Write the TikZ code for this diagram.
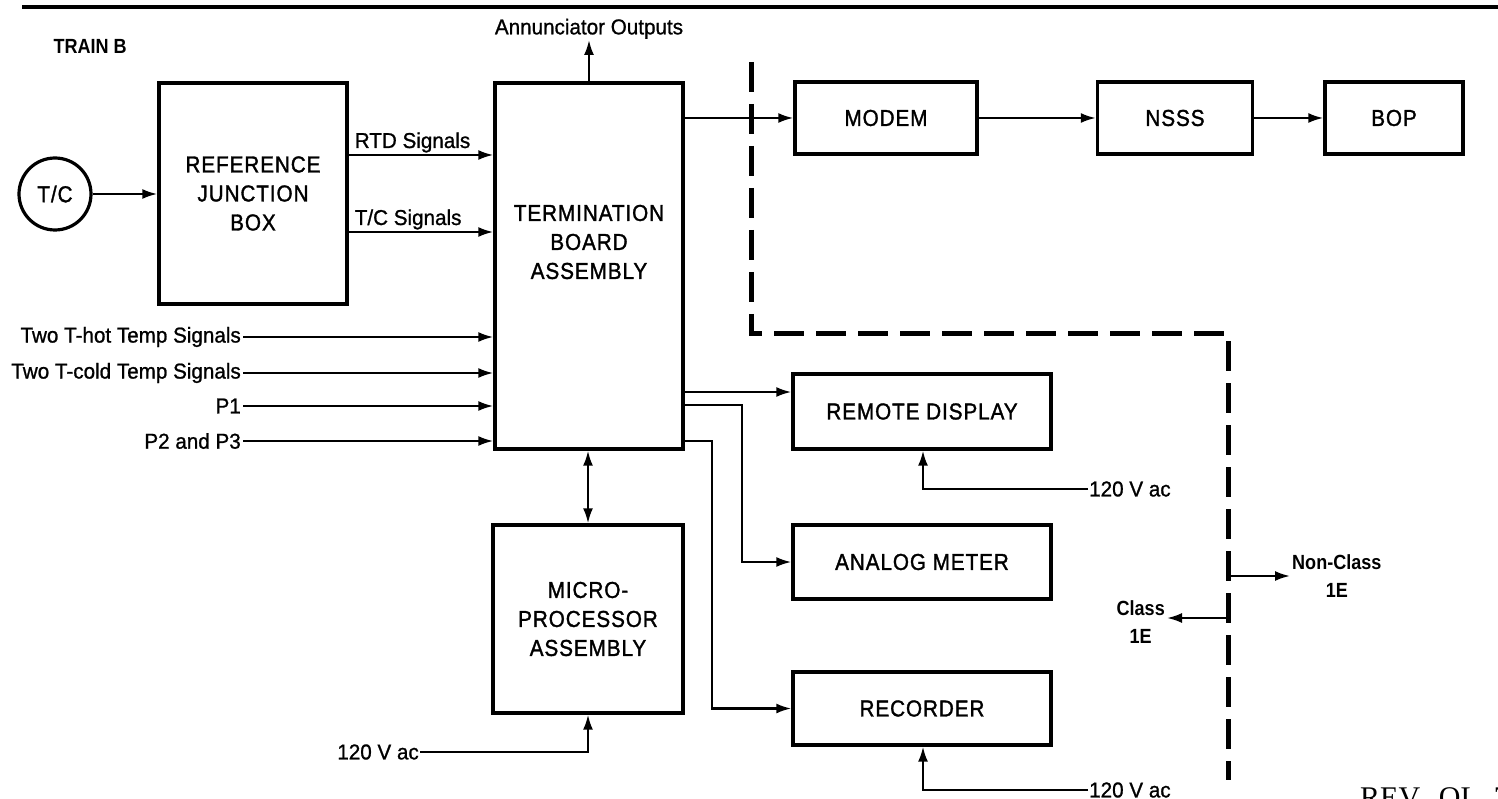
\documentclass[tikz,border=0pt]{standalone}
\usepackage{fontspec}
\setmainfont{Liberation Sans}
\newfontfamily\blkfam{Liberation Sans}[FakeStretch=0.9, FakeBold=1.4, LetterSpace=4]
\newfontfamily\lblfam{Liberation Sans}[FakeStretch=0.96, FakeBold=1]
\newfontfamily\tagfam{Liberation Sans Bold}[FakeStretch=0.88]
\newfontfamily\revfont{Liberation Serif}
\usetikzlibrary{positioning, arrows.meta}

\newcommand{\blkfont}{\blkfam\fontsize{23}{29}\selectfont}
\newcommand{\lblfont}{\lblfam\fontsize{21.5}{25}\selectfont}
\newcommand{\tagfont}{\tagfam\fontsize{20.5}{28}\selectfont}

\begin{document}
\begin{tikzpicture}[
    x=1pt, y=-1pt,
    blk/.style={draw, rectangle, line width=3.4pt, inner sep=0pt, align=center, font=\blkfont},
    tcirc/.style={draw, circle, line width=3.2pt, minimum size=72pt, inner sep=0pt, font=\blkfont},
    lbl/.style={inner sep=2pt, font=\lblfont},
    tag/.style={inner sep=2pt, align=center, font=\tagfont},
    sig/.style={line width=2.2pt, -{Latex[length=15pt, width=10pt]}},
    dsig/.style={line width=2.2pt, {Latex[length=15pt, width=10pt]}-{Latex[length=15pt, width=10pt]}},
    bound/.style={line width=5pt, dash pattern=on 30pt off 12pt},
]
\useasboundingbox (0,0) rectangle (1498,799);

% heading
\draw[line width=3.4pt] (22,7) -- (1498,7);
\node[anchor=west, font=\tagfont] (train) at (50,46) {TRAIN B};

% blocks
\node[tcirc] (tc) at (55,194) {T/C};
\node[blk, minimum width=188pt, minimum height=221pt] (jbox) at (253,193.5) {REFERENCE\\JUNCTION\\BOX};
\node[blk, minimum width=188pt, minimum height=366pt,
      label={[align=center, font=\blkfont, yshift=24pt]center:TERMINATION\\BOARD\\ASSEMBLY}] (tboard) at (589,266) {};
\node[blk, minimum width=190pt, minimum height=188pt] (micro) at (588,619) {MICRO-\\PROCESSOR\\ASSEMBLY};
\node[blk, minimum width=182pt, minimum height=72pt] (modem) at (886,118) {MODEM};
\node[blk, minimum width=155pt, minimum height=72pt] (nsss) at (1175,118) {NSSS};
\node[blk, minimum width=138pt, minimum height=72pt] (bop) at (1394,118) {BOP};
\node[blk, minimum width=258pt, minimum height=75pt] (rdisp) at (922,411.5) {REMOTE DISPLAY};
\node[blk, minimum width=258pt, minimum height=74pt] (ameter) at (922,562) {ANALOG METER};
\node[blk, minimum width=258pt, minimum height=73pt] (rec) at (922,708.5) {RECORDER};

% signal labels
\node[lbl, anchor=south, inner sep=1pt] (ann) at (589,40) {Annunciator Outputs};
\node[lbl, anchor=east] (thot) at (243,337) {Two T-hot Temp Signals};
\node[lbl, anchor=east] (tcold) at (243,373) {Two T-cold Temp Signals};
\node[lbl, anchor=east] (pone) at (243,406) {P1};
\node[lbl, anchor=east] (ptwo) at (243,441) {P2 and P3};
\node[lbl, anchor=east, inner sep=1pt] (acmic) at (420,752) {120 V ac};
\node[lbl, anchor=west, inner sep=1pt] (acdisp) at (1088,489) {120 V ac};
\node[lbl, anchor=west, inner sep=1pt] (acrec) at (1088,790) {120 V ac};

% inputs
\draw[sig] (tc) -- (tc -| jbox.west);
\draw[sig] (jbox.east |- 0,155) -- node[lbl, pos=0, anchor=base west, xshift=3pt, yshift=7pt] {RTD Signals} (tboard.west |- 0,155);
\draw[sig] (jbox.east |- 0,232) -- node[lbl, pos=0, anchor=base west, xshift=3pt, yshift=7pt] {T/C Signals} (tboard.west |- 0,232);
\foreach \n in {thot, tcold, pone, ptwo}
    \draw[sig] (\n.east) -- (tboard.west |- \n.east);

% outputs
\draw[sig] (tboard.north) -- (ann.south);
\draw[sig] (tboard.east |- modem) -- (modem);
\draw[sig] (modem) -- (nsss);
\draw[sig] (nsss) -- (bop);
\draw[sig] (tboard.east |- 0,392) -- (rdisp.west |- 0,392);
\draw[sig] (tboard.east |- 0,405) -- (742,405) |- (ameter.west);
\draw[sig] (tboard.east |- 0,441) -- (712,441) |- (rec.west);
\draw[dsig] (micro.north) -- (tboard.south -| micro.north);

% power
\draw[sig] (acmic.east) -| (micro.south);
\draw[sig] (acdisp.west) -| (rdisp.south -| 923,0);
\draw[sig] (acrec.west) -| (rec.south -| 923,0);

% class boundary
\draw[bound] (751,62) -- (751,333) -- (1228,333) -- (1228,780);
\coordinate (ncfoot) at (1228,576);
\coordinate (cfoot) at (1228,618);
\node[tag, anchor=west] (nonclass) at (1290,576) {Non-Class\\1E};
\node[tag, anchor=east] (class) at (1167,622) {Class\\1E};
\draw[sig] (ncfoot) -- (nonclass.west);
\draw[sig] (cfoot) -- (class.east |- cfoot);

\node[anchor=north west, inner sep=0pt, font=\revfont\fontsize{30}{30}\selectfont] (rev) at (1360,787) {REV.\ \ OL\ \ 7};
\end{tikzpicture}
\end{document}
